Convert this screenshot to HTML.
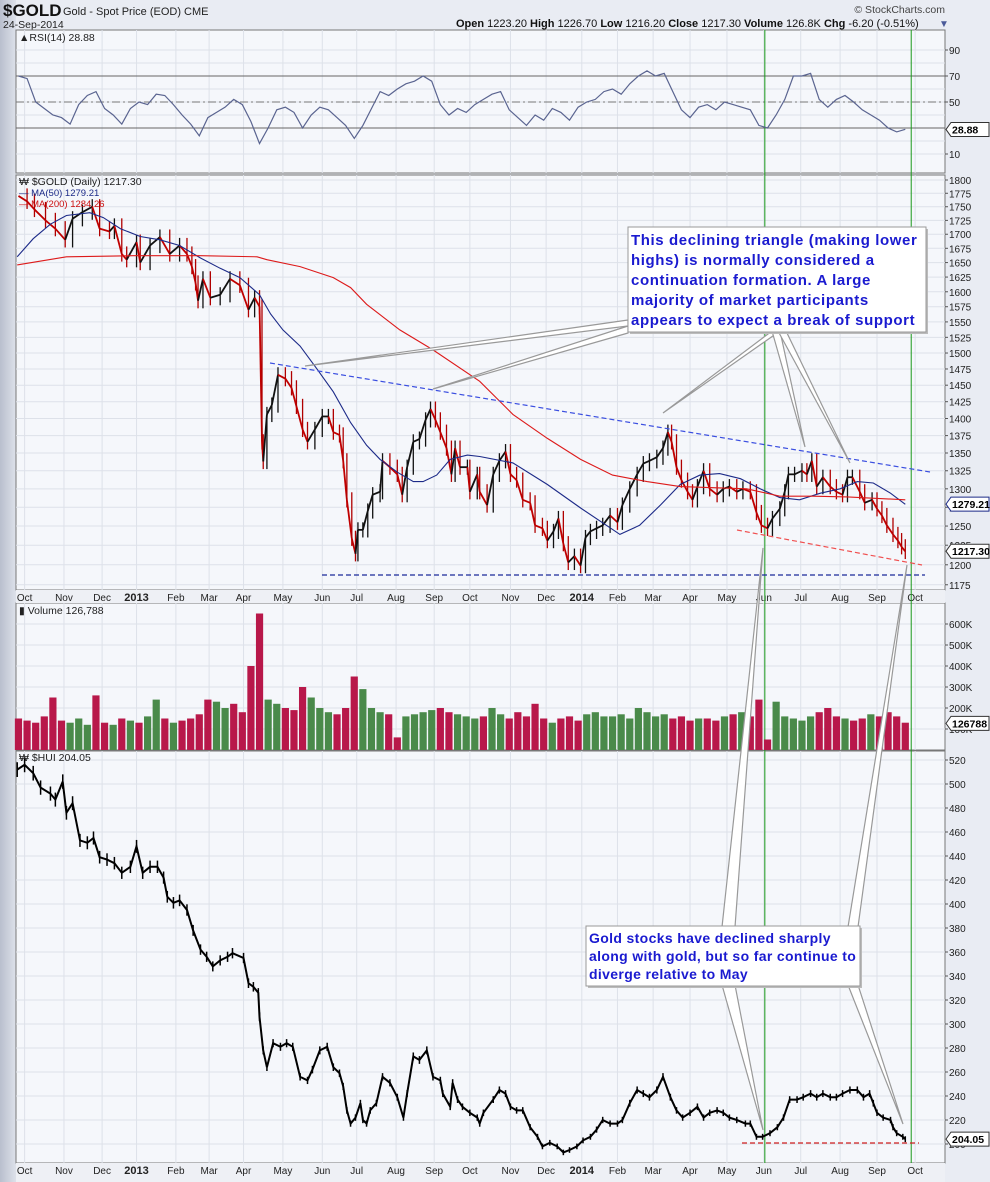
<!DOCTYPE html>
<html><head><meta charset="utf-8"><style>
html,body{margin:0;padding:0;background:#e9ecf3;}
svg{display:block;font-family:"Liberation Sans",Arial,sans-serif;}
</style></head><body>
<svg id="chart" width="990" height="1182" viewBox="0 0 990 1182" xmlns="http://www.w3.org/2000/svg">
<defs><linearGradient id="lg" x1="0" x2="1" y1="0" y2="0"><stop offset="0" stop-color="#b9bfcd"/><stop offset="1" stop-color="#dde1ea"/></linearGradient></defs>
<rect x="0" y="0" width="990" height="1182" fill="#e9ecf3"/>
<rect x="0" y="0" width="16" height="1182" fill="url(#lg)"/>
<g id="header">
<text x="3" y="16" font-size="17" font-weight="bold" fill="#111">$GOLD</text>
<text x="63" y="15" font-size="11" fill="#222">Gold - Spot Price (EOD) CME</text>
<text x="3" y="28" font-size="10.5" fill="#222">24-Sep-2014</text>
<text x="945" y="13" font-size="10.5" fill="#444" text-anchor="end">© StockCharts.com</text>
<text x="456" y="27" font-size="11" fill="#111"><tspan font-weight="bold">Open</tspan> 1223.20 <tspan font-weight="bold">High</tspan> 1226.70 <tspan font-weight="bold">Low</tspan> 1216.20 <tspan font-weight="bold">Close</tspan> 1217.30 <tspan font-weight="bold">Volume</tspan> 126.8K <tspan font-weight="bold">Chg</tspan> -6.20 (-0.51%)</text>
<text x="939" y="27" font-size="10" fill="#4a5a99">▼</text>
</g>
<g id="panels"></g>
<g id="marks"></g>
<g id="notes"></g>
</svg>
<script>
// ---------- data ----------
var monthLabels=["Oct","Nov","Dec","2013","Feb","Mar","Apr","May","Jun","Jul","Aug","Sep","Oct","Nov","Dec","2014","Feb","Mar","Apr","May","Jun","Jul","Aug","Sep","Oct"];
var monthDays=[7,39,70,98,130,157,185,217,249,277,309,340,369,402,431,460,489,518,548,578,608,638,670,700,731];
var rsiTicks=[10,50,70,90];
var priceTicks=[1175,1200,1225,1250,1275,1300,1325,1350,1375,1400,1425,1450,1475,1500,1525,1550,1575,1600,1625,1650,1675,1700,1725,1750,1775,1800];
var volTicks=[100,200,300,400,500,600];
var huiTicks=[200,220,240,260,280,300,320,340,360,380,400,420,440,460,480,500,520];
var markerDays=[608,727];

var goldDays=[2,9,15,24,32,40,46,54,62,68,76,80,86,90,98,101,109,117,125,133,139,143,146,148,152,158,166,174,182,189,194,198,200,201,204,208,213,219,224,228,233,237,243,249,254,258,263,266,269,273,276,278,282,286,290,296,298,304,310,314,318,323,328,333,337,341,345,350,354,357,361,367,369,375,377,383,388,393,398,402,407,412,418,422,428,432,437,441,445,449,454,459,463,467,472,477,483,489,493,499,505,510,515,521,526,530,533,537,541,546,550,554,559,564,570,575,580,586,591,597,602,606,611,615,621,625,628,633,639,643,647,651,656,662,667,672,676,680,686,690,696,700,704,708,713,717,720,723];
var goldClose=[1770,1760,1745,1725,1710,1690,1728,1740,1750,1710,1705,1715,1665,1655,1686,1650,1680,1695,1665,1680,1665,1643,1615,1585,1622,1590,1595,1622,1611,1570,1590,1575,1366,1338,1406,1420,1466,1460,1446,1418,1384,1366,1384,1403,1403,1380,1376,1339,1285,1234,1214,1245,1245,1270,1292,1296,1339,1330,1320,1292,1330,1366,1370,1398,1414,1398,1380,1357,1320,1357,1330,1330,1296,1320,1296,1278,1320,1339,1352,1320,1312,1285,1281,1251,1247,1231,1243,1260,1227,1203,1211,1199,1235,1243,1247,1251,1264,1255,1278,1300,1320,1335,1339,1344,1357,1380,1366,1330,1312,1296,1285,1303,1325,1300,1292,1300,1303,1296,1300,1296,1268,1251,1247,1260,1273,1296,1320,1320,1325,1320,1339,1303,1316,1303,1296,1292,1316,1316,1296,1281,1285,1273,1264,1251,1239,1231,1223,1217];

var ma50Days=[1,14,28,41,60,71,85,101,117,133,150,166,182,198,207,217,231,245,258,272,285,296,310,323,331,342,353,367,377,404,432,459,480,491,507,524,540,556,572,589,605,621,637,654,670,684,697,711,723];
var ma50Vals=[1660,1692,1718,1734,1739,1730,1710,1696,1690,1680,1658,1640,1624,1595,1563,1537,1511,1474,1440,1394,1361,1341,1323,1310,1310,1319,1341,1347,1345,1336,1306,1274,1251,1239,1251,1278,1306,1319,1321,1314,1300,1288,1285,1294,1300,1310,1308,1294,1279];
var ma200Days=[1,41,95,150,196,204,231,258,272,285,312,339,377,404,432,459,485,513,540,594,621,648,676,723];
var ma200Vals=[1646,1660,1662,1662,1660,1655,1643,1624,1607,1579,1537,1505,1456,1406,1371,1341,1319,1310,1303,1300,1290,1290,1289,1285];

var rsiVals=[70,68,50,45,40,38,33,48,55,58,45,40,33,45,50,48,56,55,48,40,33,24,38,42,46,52,48,35,18,30,44,46,42,30,40,46,44,38,32,22,32,45,58,55,60,64,66,70,66,48,40,45,42,48,52,56,58,44,38,32,40,36,45,42,36,46,50,52,58,60,56,64,70,74,70,72,58,44,38,46,48,44,50,48,46,44,32,30,40,52,70,70,72,52,46,52,55,50,44,40,36,30,27,29];

var volVals=[150,140,130,160,250,140,130,150,120,260,130,120,150,140,130,160,240,150,130,140,150,170,240,230,200,220,180,400,650,240,220,200,190,300,250,200,180,170,200,350,290,200,180,170,60,160,170,180,190,200,180,170,160,150,160,200,170,150,180,160,220,150,130,150,160,140,170,180,160,160,170,150,200,180,160,170,150,160,140,150,150,140,160,170,180,160,240,50,230,160,150,140,160,180,200,160,150,140,150,170,160,180,160,130];

var huiDays=[1,7,14,20,28,32,38,41,46,52,58,63,68,74,80,86,93,98,103,109,115,120,123,128,133,139,144,150,155,160,166,172,176,185,189,193,197,198,201,204,209,215,220,225,231,237,241,247,253,258,263,266,269,272,276,280,282,285,288,293,298,304,310,315,318,323,328,334,339,345,347,353,355,359,363,369,375,377,380,388,393,398,402,407,412,418,424,428,434,440,445,450,456,461,467,472,477,483,489,493,499,505,510,515,521,526,532,537,542,548,554,559,564,570,575,580,586,593,597,602,607,613,619,624,629,635,640,646,651,656,662,667,672,678,684,689,694,697,700,705,711,713,716,721,723];
var huiVals=[512,516,509,497,492,487,502,476,484,453,451,455,439,437,434,426,431,448,426,431,431,422,406,401,403,395,378,362,356,348,353,356,359,355,334,331,326,306,278,264,284,281,284,281,256,253,262,278,281,264,259,248,228,217,222,234,220,217,228,234,256,251,239,222,242,273,270,278,256,253,242,231,251,237,231,226,222,217,226,237,245,242,231,228,228,214,206,198,201,198,193,195,198,203,206,212,220,217,217,220,234,245,242,239,245,256,239,228,222,226,231,222,226,228,226,222,220,217,217,206,206,209,214,222,237,237,239,242,239,242,239,239,242,245,245,239,242,234,226,222,220,214,209,206,204];

// ---------- scales ----------
var L=16,R=945;
function X(d){return L+d*1.23;}
function yRsi(v){return 154-(v-10)*1.3;}
function yGold(p){return 180+949*Math.log(1800/p);}
function yVol(v){return 750-v*0.21;}
function yHui(v){return 760+(520-v)*1.2;}

var NS="http://www.w3.org/2000/svg";
function mk(tag,attrs,parent){var e=document.createElementNS(NS,tag);for(var k in attrs)e.setAttribute(k,attrs[k]);parent.appendChild(e);return e;}
var P=document.getElementById('panels'),M=document.getElementById('marks'),N=document.getElementById('notes');

var panels=[{n:'rsi-panel',t:30,b:173},{n:'price-panel',t:175,b:590},{n:'volume-panel',t:603,b:750},{n:'hui-panel',t:751,b:1163}];
panels.forEach(function(p){
  var r=mk('rect',{x:L,y:p.t,width:R-L,height:p.b-p.t,fill:'#f5f7fb',stroke:'#777','stroke-width':1},P);
  
  
  monthDays.forEach(function(d){mk('line',{x1:X(d),x2:X(d),y1:p.t,y2:p.b,stroke:'#dde1e9','stroke-width':1},P);});
});
[[590,603],[1163,1182]].forEach(function(b,i){
  var r=mk('rect',{x:L,y:b[0],width:R-L,height:b[1]-b[0],fill:'#eef0f5'},P);
  
  
  monthLabels.forEach(function(m,j){
    var t=mk('text',{x:X(monthDays[j]),y:b[0]+11,'font-size':(m.length==4?11:10),'font-weight':(m.length==4?'bold':'normal'),fill:'#222','text-anchor':'middle'},P);
    t.textContent=m;
    
    
  });
});
function hgrid(ticks,fy,t,b,fmt){
  ticks.forEach(function(v){var y=fy(v);if(y<t||y>b)return;
    mk('line',{x1:L,x2:R,y1:y,y2:y,stroke:'#dde1e9'},P);
    mk('line',{x1:R,x2:R+3,y1:y,y2:y,stroke:'#555'},P);
    var tx=mk('text',{x:R+4,y:y+4,'font-size':10,fill:'#222'},P);tx.textContent=fmt(v);
    
    
  });
}
hgrid(rsiTicks,yRsi,30,173,String);
[20,30,40,60,80].forEach(function(v){mk('line',{x1:L,x2:R,y1:yRsi(v),y2:yRsi(v),stroke:'#dde1e9'},P);});
hgrid(priceTicks,yGold,175,590,String);
hgrid(volTicks,yVol,603,750,function(v){return v+'K';});
hgrid(huiTicks,yHui,751,1163,String);
mk('line',{x1:L,x2:R,y1:yRsi(70),y2:yRsi(70),stroke:'#666'},P);
mk('line',{x1:L,x2:R,y1:yRsi(30),y2:yRsi(30),stroke:'#666'},P);
mk('line',{x1:L,x2:R,y1:yRsi(50),y2:yRsi(50),stroke:'#777','stroke-dasharray':'8,3,2,3'},P);

markerDays.forEach(function(d){
  var l=mk('line',{x1:X(d)+1,x2:X(d)+1,y1:30,y2:1163,stroke:'#1a9a1a','stroke-width':1},M);
  
  
});

// RSI
var rp=rsiVals.map(function(v,i){return X(i*7+2).toFixed(1)+','+yRsi(v).toFixed(1);}).join(' ');
var rl=mk('polyline',{points:rp,fill:'none',stroke:'#5a6490','stroke-width':1.2},M);



function goldAt(d){for(var i=1;i<goldDays.length;i++){if(goldDays[i]>=d){var a=goldDays[i-1],b=goldDays[i];var f=(d-a)/(b-a||1);return goldClose[i-1]+(goldClose[i]-goldClose[i-1])*f;}}return goldClose[goldClose.length-1];}

// Gold price
for(var i=1;i<goldClose.length;i++){
  var up=goldClose[i]>=goldClose[i-1];
  var s=mk('line',{x1:X(goldDays[i-1]),y1:yGold(goldClose[i-1]),x2:X(goldDays[i]),y2:yGold(goldClose[i]),stroke:up?'#111':'#c00000','stroke-width':1.8},M);
  
  
  var hi=Math.max(goldClose[i],goldClose[i-1])*1.008,lo=Math.min(goldClose[i],goldClose[i-1])*0.992;
  var b=mk('line',{x1:X(goldDays[i]),x2:X(goldDays[i]),y1:yGold(hi),y2:yGold(lo),stroke:up?'#111':'#b00000','stroke-width':1.3},M);
  
  
}
var m50=mk('polyline',{points:ma50Vals.map(function(v,i){return X(ma50Days[i]).toFixed(1)+','+yGold(v).toFixed(1);}).join(' '),fill:'none',stroke:'#1c2a88','stroke-width':1.1},M);


var m200=mk('polyline',{points:ma200Vals.map(function(v,i){return X(ma200Days[i]).toFixed(1)+','+yGold(v).toFixed(1);}).join(' '),fill:'none',stroke:'#dd1a1a','stroke-width':1.1},M);



// Volume
volVals.forEach(function(v,i){
  var d=i*7+2;var up=goldAt(d)>=goldAt(d-4);
  var r=mk('rect',{x:X(d)-3.6,y:yVol(v),width:7.2,height:750-yVol(v),fill:up?'#4a8a4a':'#b8184a'},M);
  
  
});

// HUI
var hl=mk('polyline',{points:huiVals.map(function(v,i){return X(huiDays[i]).toFixed(1)+','+yHui(v).toFixed(1);}).join(' '),fill:'none',stroke:'#000','stroke-width':2},M);


huiVals.forEach(function(v,i){
  var t=mk('line',{x1:X(huiDays[i]),x2:X(huiDays[i]),y1:yHui(v*1.012),y2:yHui(v*0.988),stroke:'#000','stroke-width':1.5},M);
  
  
});

function dline(x1,y1,x2,y2,c,name){var l=mk('line',{x1:x1,y1:y1,x2:x2,y2:y2,stroke:c,'stroke-width':1.2,'stroke-dasharray':'5,3'},N);}
dline(270,363,930,472,'#3a4ee0','resistance-trendline');
dline(322,575,925,575,'#1a2a9a','support-line');
dline(737,530,922,565,'#f05050','lower-trendline');
dline(742,1143,919,1143,'#d02020','hui-support-line');

function wedge(a1,a2,tip,name){var p=mk('polygon',{points:a1.join(',')+' '+tip.join(',')+' '+a2.join(','),fill:'#fff',stroke:'#999','stroke-width':1.2},N);}
wedge([628,320],[628,326],[305,366],'callout-pointer');
wedge([628,326],[628,333],[433,389],'callout-pointer');
wedge([772,331],[780,331],[663,413],'callout-pointer');
wedge([772,331],[780,331],[805,447],'callout-pointer');
wedge([778,331],[786,331],[850,463],'callout-pointer');
wedge([722,927],[735,927],[763,548],'callout-pointer');
wedge([848,927],[858,927],[907,565],'callout-pointer');
wedge([722,985],[735,985],[763,1130],'callout-pointer');
wedge([848,985],[858,985],[903,1124],'callout-pointer');

function box(x,y,w,h,lines,name,ly,fs,gap,ls){
  var g=mk('g',{},N);
  
  
  mk('rect',{x:x+2,y:y+2,width:w,height:h,fill:'#bbb'},g);
  mk('rect',{x:x,y:y,width:w,height:h,fill:'#fff',stroke:'#999'},g);
  lines.forEach(function(s,i){var t=mk('text',{x:x+3,y:y+ly+i*gap,'font-size':fs,'font-weight':'bold',fill:'#1a1ad0','letter-spacing':ls},g);t.textContent=s;});
}
box(628,227,298,105,["This declining triangle (making lower","highs) is normally considered a","continuation formation. A  large","majority of market participants","appears to expect a break of support"],'triangle-annotation',18,15,20,0.6);
box(586,926,274,60,["Gold stocks have declined sharply","along with gold, but so far continue to","diverge relative to May"],'hui-annotation',17,14,18,0.35);

function txt(x,y,s,fs,c,name){var t=mk('text',{x:x,y:y,'font-size':fs,fill:c},N);t.textContent=s;}
txt(19,41,'▲RSI(14) 28.88',10.5,'#222','rsi-legend');
txt(19,185,'₩ $GOLD (Daily) 1217.30',10.5,'#222','price-legend');
txt(19,196,'— MA(50) 1279.21',9.5,'#1c2a88','ma50-legend');
txt(19,207,'— MA(200) 1284.26',9.5,'#cc1010','ma200-legend');
txt(19,614,'▮ Volume 126,788',10.5,'#222','volume-legend');
txt(19,761,'₩ $HUI 204.05',10.5,'#222','hui-legend');

function tag(y,s,name,c){var g=mk('g',{},N);mk('polygon',{points:(R+1)+','+y+' '+(R+6)+','+(y-7)+' 989,'+(y-7)+' 989,'+(y+7)+' '+(R+6)+','+(y+7),fill:'#fff',stroke:c},g);var t=mk('text',{x:R+7,y:y+4,'font-size':10.5,'font-weight':'bold',fill:'#000'},g);t.textContent=s;}
tag(yRsi(28.88),'28.88','rsi-value-tag','#333');
tag(yGold(1279.21),'1279.21','ma50-value-tag','#1c2a88');
tag(yGold(1217.3),'1217.30','price-value-tag','#333');
tag(yVol(126.788),'126788','volume-value-tag','#333');
tag(yHui(204.05),'204.05','hui-value-tag','#333');
</script>
</body></html>
